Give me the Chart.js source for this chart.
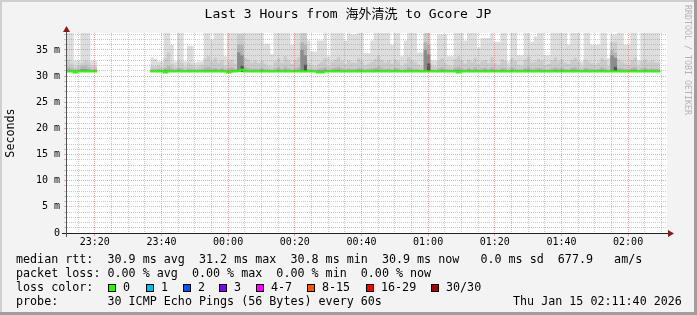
<!DOCTYPE html>
<html>
<head>
<meta charset="utf-8">
<script src="https://cdn.jsdelivr.net/npm/chart.js@4.4.1/dist/chart.umd.min.js"></script>
<style>
  html, body { margin: 0; padding: 0; background: #f3f3f3; }
  canvas { display: block; }
</style>
</head>
<body>
<canvas id="graficoPing" width="697" height="315"></canvas>
<script>
const _ = null;

// one slot per minute after the graph start (23:11:40), values in ms
const mediana = [
  30.9, 30.9, 30.9, 30.7, 30.9, 30.9, 30.9, 30.9, 30.9, 30.9,
  _, _, _, _, _, _, _, _, _, _,
  _, _, _, _, _, 30.9, 30.9, 30.9, 30.9, 30.9,
  30.7, 30.9, 30.9, 30.9, 30.9, 30.9, 30.9, 30.9, 30.9, 30.9,
  30.9, 30.9, 30.9, 30.9, 30.9, 30.9, 30.9, 30.9, 30.9, 30.7,
  30.9, 30.9, 31.0, 31.2, 30.9, 30.9, 30.9, 30.9, 30.9, 30.9,
  30.9, 30.9, 30.9, 30.9, 30.9, 30.9, 30.9, 30.9, 30.9, 30.9,
  30.9, 30.9, 30.9, 30.9, 30.9, 30.9, 30.7, 30.7, 30.9, 30.9,
  30.9, 30.9, 30.9, 30.9, 30.9, 30.9, 30.9, 30.9, 30.9, 30.9,
  30.9, 30.9, 30.9, 30.9, 30.9, 30.9, 30.9, 30.9, 30.9, 30.9,
  30.9, 30.9, 30.9, 30.9, 30.9, 30.9, 30.9, 30.9, 30.9, 30.9,
  30.9, 30.9, 30.9, 30.9, 30.9, 30.9, 30.9, 30.9, 30.7, 30.9,
  30.9, 30.9, 30.9, 30.9, 30.9, 30.9, 30.9, 30.9, 30.9, 30.9,
  30.9, 30.9, 30.9, 30.9, 30.9, 30.9, 30.9, 30.9, 30.9, 30.9,
  30.9, 30.9, 30.9, 30.9, 30.9, 30.9, 30.9, 30.9, 30.9, 30.9,
  30.9, 30.9, 30.9, 30.9, 30.9, 30.9, 30.9, 30.9, 30.9, 30.9,
  30.9, 30.9, 30.9, 30.9, 30.9, 30.9, 30.9, 30.9, 30.9, 30.9,
  30.9, 30.9, 30.9, 30.9, 30.9, 30.9, 30.9, 30.9, 30.9, _,
  _
];

// smoke: highest ping of each minute (above the top is clipped)
const humoMax = [
  40, 40, 40, 33, 33, 40, 40, 40, 33, 33,
  _, _, _, _, _, _, _, _, _, _,
  _, _, _, _, _, 33.6, 33.6, 33.3, 32.8, 32.8,
  40, 40, 36, 32.8, 40, 40, 32.8, 35.8, 35.8, 32.6,
  32.8, 32.8, 40, 40, 37, 40, 40, 40, 33.8, 40,
  40, 40, 40, 40, 40, 40, 40, 40, 39, 39,
  36.2, 36.2, 34.2, 40, 40, 40, 40, 40, 36, 40,
  40, 40, 40, 36.8, 34.7, 34.7, 36.8, 36.8, 40, 33.8,
  40, 40, 40, 40, 36.8, 40, 38, 38, 40, 40,
  34.4, 34.4, 36.8, 40, 40, 40, 40, 40, 36, 40,
  40, 33.8, 36.8, 40, 40, 40, 34.5, 34.5, 40, 40,
  33, 33, 38, 38, 38, 33.8, 33.8, 40, 40, 40,
  36.8, 40, 40, 40, 35.5, 37.3, 37.3, 37.3, 40, 36.6,
  36.6, 40, 40, 32.8, 40, 40, 34, 34, 40, 40,
  36.6, 37.6, 40, 40, 34, 34, 40, 40, 40, 40,
  40, 36, 40, 40, 40, 32.8, 40, 40, 36, 36,
  36, 40, 40, 33.4, 38, 38, 40, 40, 36, 36,
  40, 40, 33, 40, 40, 40, 40, 40, 40, _,
  _
];

const humoMedio = [
  33.2, 33.2, 32.4, 31.8, 32.0, 32.5, 33.0, 32.8, 31.9, 31.9,
  _, _, _, _, _, _, _, _, _, _,
  _, _, _, _, _, 32.2, 32.0, 31.9, 32.1, 31.7,
  33.5, 34.5, 32.4, 31.9, 33.0, 32.6, 31.8, 32.5, 32.2, 31.7,
  31.9, 32.2, 33.4, 33.8, 32.8, 33.5, 32.6, 33.0, 32.0, 32.8,
  33.2, 32.4, 38.0, 38.0, 33.5, 33.2, 32.6, 33.0, 32.5, 32.9,
  32.4, 32.0, 31.8, 32.8, 33.4, 32.6, 33.8, 33.0, 32.3, 33.1,
  33.6, 38.5, 38.5, 32.6, 32.2, 31.9, 32.4, 32.8, 33.5, 31.9,
  32.8, 33.2, 33.6, 32.9, 32.3, 33.0, 32.6, 32.5, 33.4, 32.8,
  32.1, 32.4, 32.7, 33.3, 33.9, 33.1, 32.6, 33.0, 32.4, 33.2,
  32.8, 31.9, 32.5, 33.6, 33.0, 32.7, 32.2, 31.9, 38.5, 38.5,
  32.0, 31.8, 32.9, 33.4, 32.6, 32.1, 31.9, 33.3, 33.8, 33.0,
  32.4, 33.2, 32.7, 33.5, 32.3, 32.8, 33.1, 32.5, 33.6, 32.4,
  32.2, 33.3, 33.0, 31.8, 33.4, 32.9, 32.2, 32.0, 33.2, 33.7,
  32.6, 32.8, 33.3, 32.9, 32.1, 32.3, 33.0, 33.6, 32.8, 33.2,
  32.6, 32.3, 33.1, 33.5, 32.7, 31.8, 33.2, 32.8, 32.5, 32.2,
  32.6, 33.4, 33.0, 31.9, 36.5, 36.5, 33.3, 32.8, 32.4, 32.2,
  33.1, 33.5, 31.9, 32.9, 33.2, 32.7, 33.0, 32.6, 32.6, _,
  _
];

const humoBajo = [
  31.6, 31.8, 31.5, 31.3, 31.4, 31.9, 32.0, 31.7, 31.3, 31.3,
  _, _, _, _, _, _, _, _, _, _,
  _, _, _, _, _, 31.5, 31.4, 31.3, 31.4, 31.2,
  31.6, 31.9, 31.5, 31.3, 31.6, 31.5, 31.2, 31.5, 31.4, 31.2,
  31.3, 31.4, 31.7, 31.8, 31.5, 31.6, 31.4, 31.6, 31.3, 31.5,
  31.7, 31.4, 36.0, 36.0, 31.8, 31.6, 31.4, 31.5, 31.4, 31.6,
  31.4, 31.3, 31.2, 31.5, 31.7, 31.4, 31.8, 31.5, 31.3, 31.5,
  31.7, 36.5, 36.0, 31.4, 31.3, 31.2, 31.4, 31.5, 31.7, 31.2,
  31.5, 31.6, 31.8, 31.5, 31.3, 31.5, 31.4, 31.4, 31.6, 31.5,
  31.3, 31.4, 31.5, 31.6, 31.9, 31.6, 31.4, 31.5, 31.3, 31.6,
  31.5, 31.2, 31.4, 31.7, 31.5, 31.4, 31.3, 31.2, 36.5, 36.0,
  31.3, 31.2, 31.5, 31.7, 31.4, 31.3, 31.2, 31.6, 31.8, 31.5,
  31.3, 31.6, 31.4, 31.7, 31.3, 31.5, 31.6, 31.4, 31.7, 31.4,
  31.3, 31.6, 31.5, 31.2, 31.7, 31.5, 31.3, 31.3, 31.6, 31.8,
  31.4, 31.5, 31.6, 31.5, 31.3, 31.3, 31.5, 31.7, 31.5, 31.6,
  31.4, 31.3, 31.6, 31.7, 31.4, 31.2, 31.6, 31.5, 31.4, 31.3,
  31.4, 31.7, 31.5, 31.2, 35.0, 34.5, 31.6, 31.5, 31.4, 31.3,
  31.6, 31.7, 31.2, 31.5, 31.6, 31.4, 31.5, 31.4, 31.4, _,
  _
];

const humoNucleo = [
  31.1, 31.2, 31.1, 31.1, 31.1, 31.3, 31.3, 31.2, 31.1, 31.1,
  _, _, _, _, _, _, _, _, _, _,
  _, _, _, _, _, 31.1, 31.1, 31.1, 31.1, 31.1,
  31.2, 31.2, 31.1, 31.1, 31.2, 31.1, 31.1, 31.1, 31.1, 31.1,
  31.1, 31.1, 31.2, 31.2, 31.1, 31.2, 31.1, 31.2, 31.1, 31.1,
  31.2, 31.1, 34.5, 34.0, 31.2, 31.1, 31.1, 31.1, 31.1, 31.2,
  31.1, 31.1, 31.1, 31.1, 31.2, 31.1, 31.2, 31.1, 31.1, 31.1,
  31.2, 35.0, 34.0, 31.1, 31.1, 31.1, 31.1, 31.1, 31.2, 31.1,
  31.1, 31.2, 31.2, 31.1, 31.1, 31.1, 31.1, 31.1, 31.2, 31.1,
  31.1, 31.1, 31.1, 31.2, 31.2, 31.1, 31.1, 31.1, 31.1, 31.2,
  31.1, 31.1, 31.1, 31.2, 31.1, 31.1, 31.1, 31.1, 35.0, 34.2,
  31.1, 31.1, 31.1, 31.2, 31.1, 31.1, 31.1, 31.2, 31.2, 31.1,
  31.1, 31.2, 31.1, 31.2, 31.1, 31.1, 31.2, 31.1, 31.2, 31.1,
  31.1, 31.2, 31.1, 31.1, 31.2, 31.1, 31.1, 31.1, 31.2, 31.2,
  31.1, 31.1, 31.2, 31.1, 31.1, 31.1, 31.1, 31.2, 31.1, 31.2,
  31.1, 31.1, 31.2, 31.2, 31.1, 31.1, 31.2, 31.1, 31.1, 31.1,
  31.1, 31.2, 31.1, 31.1, 34.0, 33.5, 31.2, 31.1, 31.1, 31.1,
  31.2, 31.2, 31.1, 31.1, 31.2, 31.1, 31.1, 31.1, 31.1, _,
  _
];

// darkest band, only visible in the few slow minutes
const humoOscuro = [
  _, _, _, _, _, _, _, _, _, _,
  _, _, _, _, _, _, _, _, _, _,
  _, _, _, _, _, _, _, _, _, _,
  _, _, _, _, _, _, _, _, _, _,
  _, _, _, _, _, _, _, _, _, _,
  _, _, 32.6, 32.0, 30.9, _, _, _, _, _,
  _, _, _, _, _, _, _, _, _, _,
  _, 33.0, 32.2, 30.9, _, _, _, _, _, _,
  _, _, _, _, _, _, _, _, _, _,
  _, _, _, _, _, _, _, _, _, _,
  _, _, _, _, _, _, _, _, 33.2, 32.4,
  30.9, _, _, _, _, _, _, _, _, _,
  _, _, _, _, _, _, _, _, _, _,
  _, _, _, _, _, _, _, _, _, _,
  _, _, _, _, _, _, _, _, _, _,
  _, _, _, _, _, _, _, _, _, _,
  _, _, _, _, 32.4, 31.8, 30.9, _, _, _,
  _, _, _, _, _, _, _, _, _, _,
  _
];

const etiquetasX = ['23:20', '23:40', '00:00', '00:20', '00:40', '01:00', '01:20', '01:40', '02:00'];
const valoresY = [0, 5, 10, 15, 20, 25, 30, 35];
const etiquetasY = ['0', '5 m', '10 m', '15 m', '20 m', '25 m', '30 m', '35 m'];

const etiquetasPerdida = ['0', '1', '2', '3', '4-7', '8-15', '16-29', '30/30'];
const coloresPerdida = ['#26ff00', '#00b8ff', '#0059ff', '#7e00ff', '#ff00ff', '#ff5500', '#ff0000', '#a10000'];

const lineasLeyenda = [
  'median rtt:  30.9 ms avg  31.2 ms max  30.8 ms min  30.9 ms now   0.0 ms sd  677.9   am/s',
  'packet loss: 0.00 % avg  0.00 % max  0.00 % min  0.00 % now',
  'loss color:',
  'probe:       30 ICMP Echo Pings (56 Bytes) every 60s'
];
const fechaGrafico = 'Thu Jan 15 02:11:40 2026';
const tituloGrafico = 'Last 3 Hours from 海外清洗 to Gcore JP';

const MONO = '"DejaVu Sans Mono", "Noto Sans CJK SC", monospace';
const rojoGrid = 'rgba(235, 60, 60, 0.45)';
const grisGrid = 'rgba(140, 140, 140, 0.45)';

// minutes after 23:11:40 for a clock time
const inicioMin = 23 * 60 + 11 + 40 / 60;
function aMinutos(hhmm) {
  const [h, m] = hhmm.split(':').map(Number);
  return ((h * 60 + m) - inicioMin + 1440) % 1440;
}
const posMayores = etiquetasX.map(aMinutos);
const marcasX = [];
for (let t = aMinutos('23:15'); t <= 180; t += 5) marcasX.push(t);
const marcasY = [];
for (let v = 0; v <= 38; v++) marcasY.push(v);

const indiceMayorX = v => posMayores.findIndex(p => Math.abs(p - v) < 0.01);

const puntos = arr => arr.map((v, i) => ({ x: i, y: v }));

function capaHumo(datos, color, orden) {
  return {
    data: puntos(datos),
    stepped: 'after',
    borderColor: 'transparent',
    borderWidth: 0,
    backgroundColor: color,
    fill: { value: 30.8 },
    pointRadius: 0,
    order: orden
  };
}

const decoracion = {
  id: 'decoracion',
  beforeDraw(chart) {
    const { ctx, chartArea: a } = chart;
    ctx.save();
    ctx.fillStyle = '#f3f3f3';
    ctx.fillRect(0, 0, 697, 315);
    ctx.fillStyle = '#ffffff';
    ctx.fillRect(a.left, a.top, a.right - a.left, a.bottom - a.top);
    ctx.fillStyle = '#cfcfcf';
    ctx.fillRect(0, 0, 697, 2);
    ctx.fillRect(0, 0, 2, 315);
    ctx.fillStyle = '#9e9e9e';
    ctx.fillRect(0, 312, 697, 3);
    ctx.fillRect(694, 0, 3, 315);
    ctx.restore();
  },
  afterDraw(chart) {
    const { ctx, chartArea: a } = chart;
    ctx.save();

    // axes
    ctx.lineWidth = 1;
    ctx.strokeStyle = '#222';
    ctx.beginPath();
    ctx.moveTo(62, a.bottom + 0.5);
    ctx.lineTo(670, a.bottom + 0.5);
    ctx.stroke();
    ctx.strokeStyle = '#555';
    ctx.beginPath();
    ctx.moveTo(a.left - 0.5, a.bottom + 4);
    ctx.lineTo(a.left - 0.5, 29);
    ctx.stroke();
    ctx.fillStyle = '#8b1a1a';
    ctx.beginPath();
    ctx.moveTo(668, a.bottom - 3);
    ctx.lineTo(674, a.bottom + 0.5);
    ctx.lineTo(668, a.bottom + 4);
    ctx.closePath();
    ctx.fill();
    ctx.beginPath();
    ctx.moveTo(a.left - 4, 32);
    ctx.lineTo(a.left - 0.5, 26);
    ctx.lineTo(a.left + 3, 32);
    ctx.closePath();
    ctx.fill();

    // title
    ctx.fillStyle = '#000';
    ctx.font = '13px ' + MONO;
    ctx.textAlign = 'center';
    ctx.textBaseline = 'middle';
    ctx.fillText(tituloGrafico, 348, 15);

    // y axis title
    ctx.save();
    ctx.translate(11, 133);
    ctx.rotate(-Math.PI / 2);
    ctx.font = '11.7px ' + MONO;
    ctx.fillText('Seconds', 0, 0);
    ctx.restore();

    // rrdtool credit
    ctx.save();
    ctx.translate(687, 5);
    ctx.rotate(Math.PI / 2);
    ctx.font = '8.3px ' + MONO;
    ctx.fillStyle = '#b4b4b4';
    ctx.textAlign = 'left';
    ctx.fillText('RRDTOOL / TOBI OETIKER', 0, 0);
    ctx.restore();

    // legend text
    ctx.font = '11.7px ' + MONO;
    ctx.textAlign = 'left';
    ctx.fillStyle = '#000';
    const filas = [259.5, 273.5, 287.5, 301.5];
    lineasLeyenda.forEach((t, i) => ctx.fillText(t, 16, filas[i]));
    ctx.fillText(fechaGrafico, 513, filas[3]);

    const cajasX = [108, 145.5, 182.5, 219, 256, 306.5, 365.5, 430.5];
    etiquetasPerdida.forEach((t, i) => {
      const x = Math.round(cajasX[i]);
      ctx.fillStyle = coloresPerdida[i];
      ctx.fillRect(x, 284, 8, 8);
      ctx.strokeStyle = '#000';
      ctx.strokeRect(x + 0.5, 284.5, 7, 7);
      ctx.fillStyle = '#000';
      ctx.fillText(t, x + 15, filas[2]);
    });
    ctx.restore();
  }
};

new Chart(document.getElementById('graficoPing'), {
  type: 'line',
  data: {
    datasets: [
      {
        label: 'median rtt',
        data: puntos(mediana),
        stepped: 'after',
        borderColor: '#26ff00',
        borderWidth: 2,
        pointRadius: 0,
        fill: false,
        order: 0
      },
      capaHumo(humoOscuro, '#555555', 1),
      capaHumo(humoNucleo, '#8c8c8c', 2),
      capaHumo(humoBajo, '#b4b4b4', 3),
      capaHumo(humoMedio, '#cbcbcb', 4),
      capaHumo(humoMax, '#dddddd', 5)
    ]
  },
  options: {
    responsive: false,
    animation: false,
    devicePixelRatio: 1,
    layout: { padding: { top: 33, right: 30, left: 0, bottom: 0 } },
    plugins: {
      legend: { display: false },
      tooltip: { enabled: false }
    },
    scales: {
      x: {
        type: 'linear',
        min: 0,
        max: 180,
        afterBuildTicks: s => { s.ticks = marcasX.map(v => ({ value: v })); },
        afterFit: s => { s.height = 82; },
        grid: {
          z: 1,
          lineWidth: 1,
          tickLength: 3,
          color: c => (c.tick && indiceMayorX(c.tick.value) >= 0) ? rojoGrid : grisGrid,
          tickColor: c => (c.tick && indiceMayorX(c.tick.value) >= 0) ? rojoGrid : 'transparent'
        },
        border: { display: false, dash: [1, 1] },
        ticks: {
          autoSkip: false,
          maxRotation: 0,
          padding: 0,
          color: '#000',
          font: { family: MONO, size: 10 },
          callback: v => {
            const i = indiceMayorX(v);
            return i >= 0 ? etiquetasX[i] : '';
          }
        }
      },
      y: {
        min: 0,
        max: 38.25,
        afterBuildTicks: s => { s.ticks = marcasY.map(v => ({ value: v })); },
        afterFit: s => { s.width = 67; },
        grid: {
          z: 1,
          lineWidth: 1,
          tickLength: 3,
          color: c => (c.tick && c.tick.value % 5 === 0) ? rojoGrid : grisGrid,
          tickColor: c => (c.tick && c.tick.value % 5 === 0) ? rojoGrid : grisGrid
        },
        border: { display: false, dash: [1, 1] },
        ticks: {
          autoSkip: false,
          padding: 4,
          color: '#000',
          font: { family: MONO, size: 10 },
          callback: v => {
            const i = valoresY.indexOf(v);
            return i >= 0 ? etiquetasY[i] : '';
          }
        }
      }
    }
  },
  plugins: [decoracion]
});
</script>
</body>
</html>
